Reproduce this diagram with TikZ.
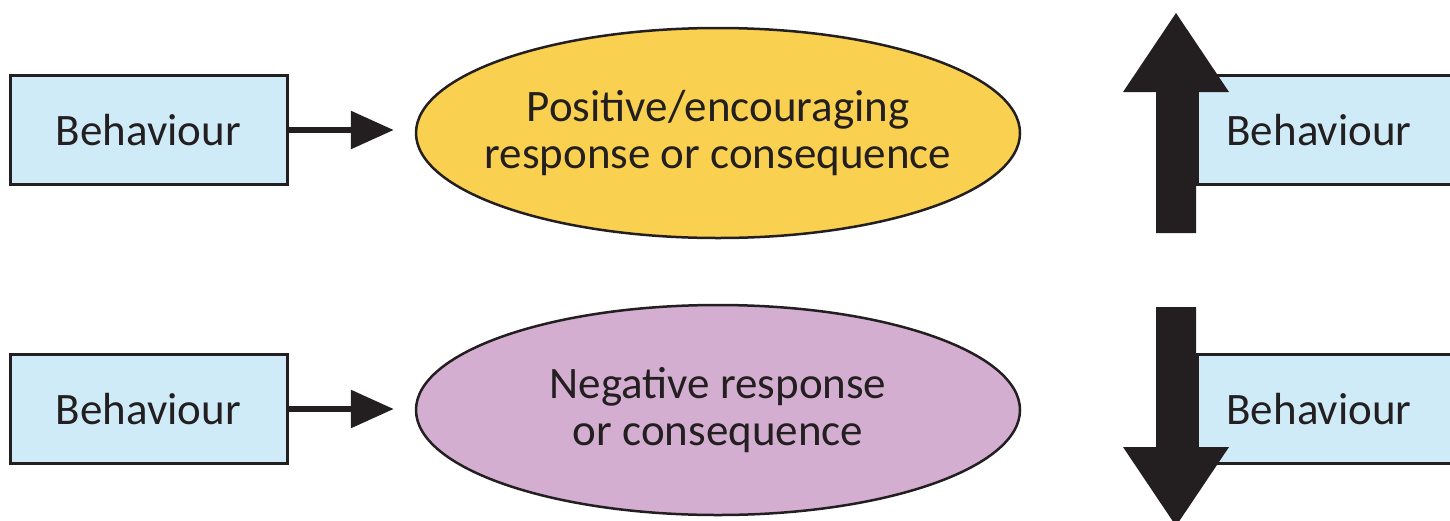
\documentclass[tikz,border=0pt]{standalone}
\usepackage{fontspec}
\setmainfont{Carlito}
\usetikzlibrary{arrows.meta,shapes.geometric}
\definecolor{ink}{HTML}{231F20}
\definecolor{boxblue}{HTML}{D0EBF8}
\definecolor{yell}{HTML}{F9D04F}
\definecolor{purp}{HTML}{D4AED0}
\tikzset{
  bbox/.style={draw=ink, line width=3pt, fill=boxblue, rectangle, minimum width=277pt, minimum height=109pt, inner sep=0pt},
  btext/.style={text=ink, font=\fontsize{45}{47}\selectfont, inner sep=0pt},
  oval/.style={draw=ink, line width=2.5pt, ellipse, minimum width=604pt, minimum height=210pt, inner sep=0pt},
  etext/.style={btext, align=center},
  conn/.style={draw=ink, line width=6pt, -{Triangle[length=43pt,width=37pt]}, shorten >=21pt},
  bigarrow/.style={fill=ink}
}
\begin{document}
\begin{tikzpicture}[x=1pt,y=-1pt]
\path[use as bounding box] (0,0) rectangle (1450,520);
\clip (0,0) rectangle (1450,520);
% left column
\node[bbox, btext] (b1) at (148.5,130) {Behaviour};
\node[bbox, btext] (b2) at (148.5,409) {Behaviour};
% ellipses
\node[oval, fill=yell] (e1) at (718,133) {};
\node[etext] (l1) at (718,133) {Positive/encouraging\\response or consequence};
\node[oval, fill=purp] (e2) at (718,410) {};
\node[etext] (l2) at (718,410) {Negative response\\or consequence};
% connectors
\draw[conn] (b1.east) -- (b1.east -| e1.west);
\draw[conn] (b2.east) -- (b2.east -| e2.west);
% right column boxes
\node[bbox, minimum width=300pt, anchor=west] (r1) at (1196,130) {};
\node[btext] (t1) at (1319,130) {Behaviour};
\node[bbox, minimum width=300pt, anchor=west] (r2) at (1196,409) {};
\node[btext] (t2) at (1319,409) {Behaviour};
% big arrows
\fill[bigarrow] (1156,233) -- (1156,92) -- (1123,92) -- (1176,13) -- (1229,92) -- (1196,92) -- (1196,233) -- cycle;
\fill[bigarrow] (1156,307) -- (1156,447) -- (1123,447) -- (1176,526) -- (1229,447) -- (1196,447) -- (1196,307) -- cycle;
\end{tikzpicture}
\end{document}
